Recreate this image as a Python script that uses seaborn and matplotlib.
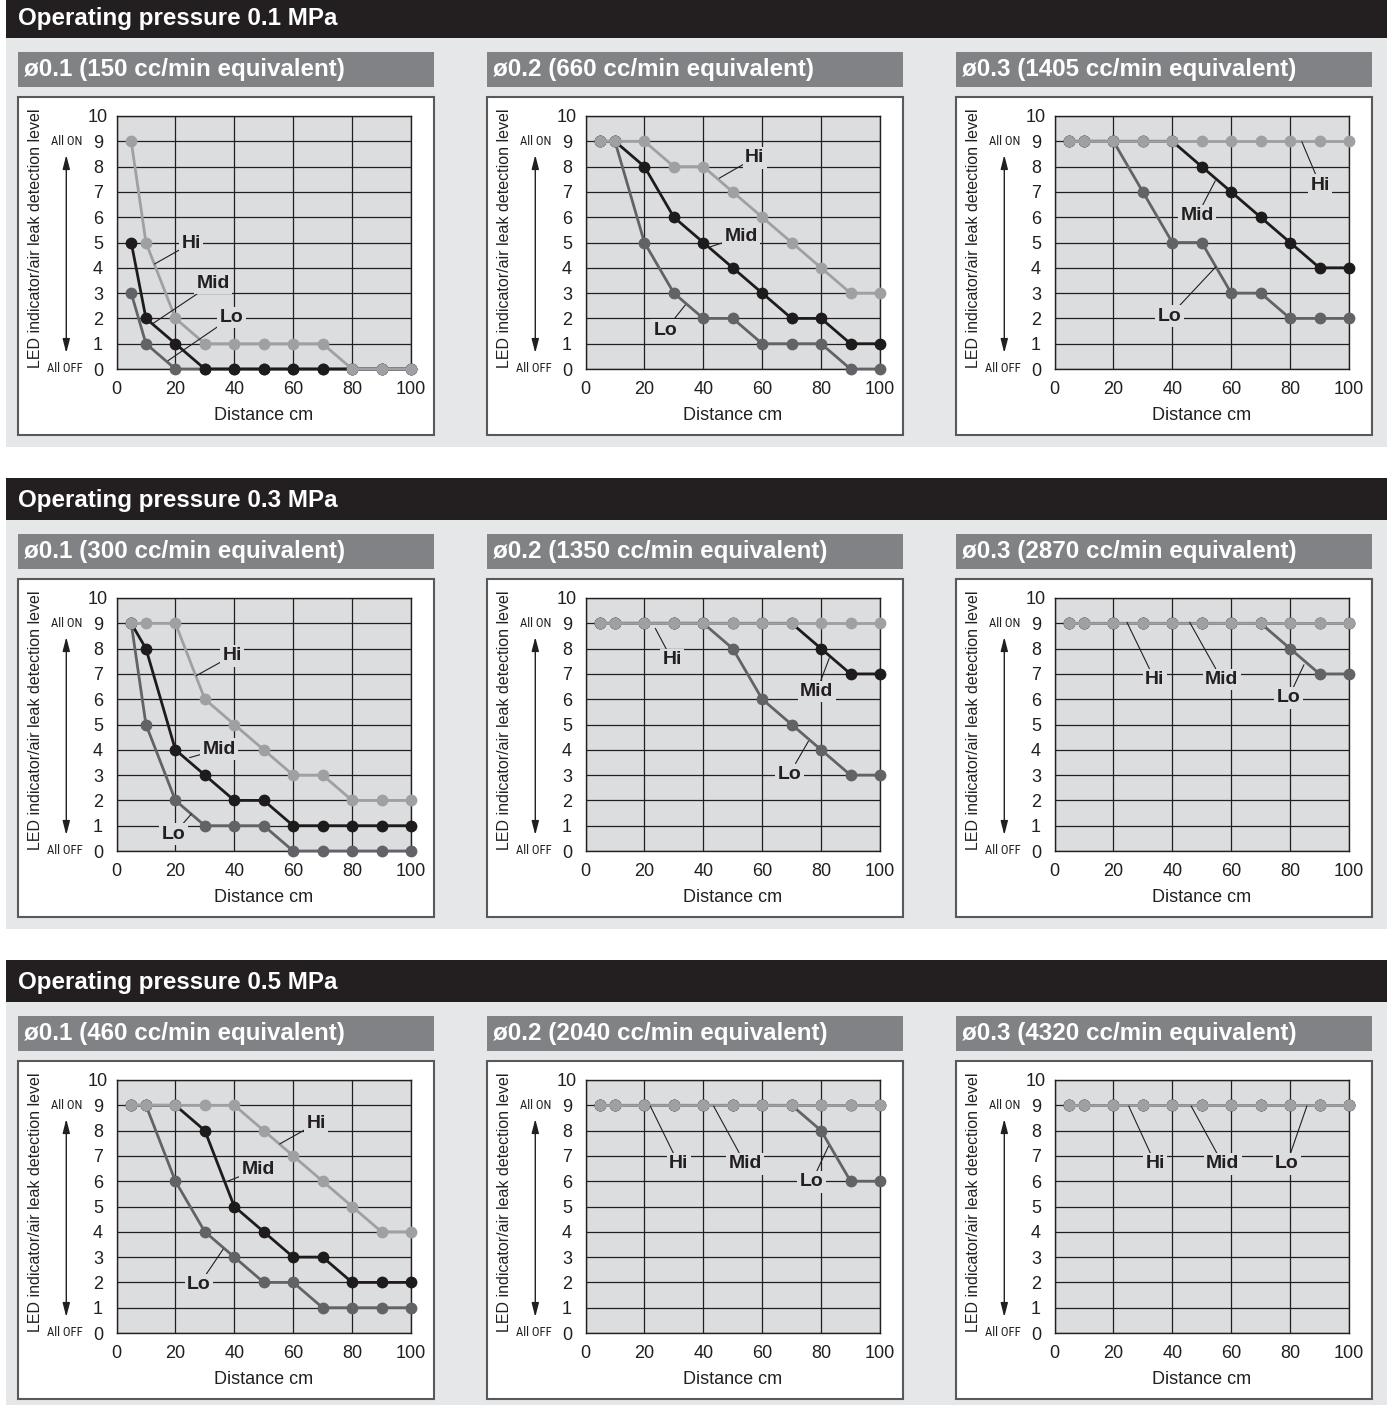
import matplotlib
matplotlib.use("Agg")
import matplotlib.pyplot as plt
from matplotlib.patches import Rectangle
from matplotlib import font_manager
from matplotlib.font_manager import FontProperties
import pandas as pd
import seaborn as sns

# ---------------- data ----------------
distance = [5, 10, 20, 30, 40, 50, 60, 70, 80, 90, 100]

p01_d01_hi = [9, 5, 2, 1, 1, 1, 1, 1, 0, 0, 0]
p01_d01_mid = [5, 2, 1, 0, 0, 0, 0, 0, 0, 0, 0]
p01_d01_lo = [3, 1, 0, 0, 0, 0, 0, 0, 0, 0, 0]

p01_d02_hi = [9, 9, 9, 8, 8, 7, 6, 5, 4, 3, 3]
p01_d02_mid = [9, 9, 8, 6, 5, 4, 3, 2, 2, 1, 1]
p01_d02_lo = [9, 9, 5, 3, 2, 2, 1, 1, 1, 0, 0]

p01_d03_hi = [9, 9, 9, 9, 9, 9, 9, 9, 9, 9, 9]
p01_d03_mid = [9, 9, 9, 9, 9, 8, 7, 6, 5, 4, 4]
p01_d03_lo = [9, 9, 9, 7, 5, 5, 3, 3, 2, 2, 2]

p03_d01_hi = [9, 9, 9, 6, 5, 4, 3, 3, 2, 2, 2]
p03_d01_mid = [9, 8, 4, 3, 2, 2, 1, 1, 1, 1, 1]
p03_d01_lo = [9, 5, 2, 1, 1, 1, 0, 0, 0, 0, 0]

p03_d02_hi = [9, 9, 9, 9, 9, 9, 9, 9, 9, 9, 9]
p03_d02_mid = [9, 9, 9, 9, 9, 9, 9, 9, 8, 7, 7]
p03_d02_lo = [9, 9, 9, 9, 9, 8, 6, 5, 4, 3, 3]

p03_d03_hi = [9, 9, 9, 9, 9, 9, 9, 9, 9, 9, 9]
p03_d03_mid = [9, 9, 9, 9, 9, 9, 9, 9, 9, 9, 9]
p03_d03_lo = [9, 9, 9, 9, 9, 9, 9, 9, 8, 7, 7]

p05_d01_hi = [9, 9, 9, 9, 9, 8, 7, 6, 5, 4, 4]
p05_d01_mid = [9, 9, 9, 8, 5, 4, 3, 3, 2, 2, 2]
p05_d01_lo = [9, 9, 6, 4, 3, 2, 2, 1, 1, 1, 1]

p05_d02_hi = [9, 9, 9, 9, 9, 9, 9, 9, 9, 9, 9]
p05_d02_mid = [9, 9, 9, 9, 9, 9, 9, 9, 9, 9, 9]
p05_d02_lo = [9, 9, 9, 9, 9, 9, 9, 9, 8, 6, 6]

p05_d03_hi = [9, 9, 9, 9, 9, 9, 9, 9, 9, 9, 9]
p05_d03_mid = [9, 9, 9, 9, 9, 9, 9, 9, 9, 9, 9]
p05_d03_lo = [9, 9, 9, 9, 9, 9, 9, 9, 9, 9, 9]

series = [
    [(p01_d01_hi, p01_d01_mid, p01_d01_lo), (p01_d02_hi, p01_d02_mid, p01_d02_lo), (p01_d03_hi, p01_d03_mid, p01_d03_lo)],
    [(p03_d01_hi, p03_d01_mid, p03_d01_lo), (p03_d02_hi, p03_d02_mid, p03_d02_lo), (p03_d03_hi, p03_d03_mid, p03_d03_lo)],
    [(p05_d01_hi, p05_d01_mid, p05_d01_lo), (p05_d02_hi, p05_d02_mid, p05_d02_lo), (p05_d03_hi, p05_d03_mid, p05_d03_lo)],
]

modes = ["Hi", "Mid", "Lo"]
section_titles = ["Operating pressure 0.1 MPa", "Operating pressure 0.3 MPa", "Operating pressure 0.5 MPa"]
panel_titles = [
    ["ø0.1 (150 cc/min equivalent)", "ø0.2 (660 cc/min equivalent)", "ø0.3 (1405 cc/min equivalent)"],
    ["ø0.1 (300 cc/min equivalent)", "ø0.2 (1350 cc/min equivalent)", "ø0.3 (2870 cc/min equivalent)"],
    ["ø0.1 (460 cc/min equivalent)", "ø0.2 (2040 cc/min equivalent)", "ø0.3 (4320 cc/min equivalent)"],
]
x_ticks = [0, 20, 40, 60, 80, 100]
y_ticks = [0, 1, 2, 3, 4, 5, 6, 7, 8, 9, 10]
y_label = "LED indicator/air leak detection level"
x_label = "Distance cm"
on_label = "All ON"
off_label = "All OFF"

# ---------------- label placement (text centre, leader tip) ----------------
annots = [
    [
        [("Hi", (25.4, 4.97), (12.9, 4.15)), ("Mid", (32.8, 3.39), (12.4, 1.8)), ("Lo", (39.0, 2.04), (17.5, 0.33))],
        [("Hi", (57.5, 8.35), (45.4, 7.54)), ("Mid", (52.8, 5.23), (42.4, 4.83)), ("Lo", (27.1, 1.54), (33.9, 2.53))],
        [("Hi", (90.2, 7.27), (84.0, 8.98)), ("Mid", (48.4, 6.05), (54.6, 7.44)), ("Lo", (39.1, 2.09), (54.8, 4.04))],
    ],
    [
        [("Hi", (39.3, 7.72), (27.1, 6.93)), ("Mid", (34.8, 4.02), (24.8, 3.69)), ("Lo", (19.4, 0.66), (25.4, 1.46))],
        [("Hi", (29.4, 7.55), (23.7, 8.8)), ("Mid", (78.5, 6.31), (82.8, 7.63)), ("Lo", (69.2, 3.03), (75.7, 4.34))],
        [("Hi", (34.0, 6.78), (24.6, 9.04)), ("Mid", (56.8, 6.78), (45.9, 9.04)), ("Lo", (79.4, 6.05), (84.7, 7.36))],
    ],
    [
        [("Hi", (67.9, 8.29), (55.4, 7.47)), ("Mid", (48.1, 6.47), (37.3, 5.98)), ("Lo", (28.0, 1.9), (36.2, 3.31))],
        [("Hi", (31.6, 6.69), (22.0, 8.97)), ("Mid", (54.2, 6.69), (43.5, 8.97)), ("Lo", (76.8, 5.97), (82.5, 7.38))],
        [("Hi", (34.2, 6.69), (25.2, 8.97)), ("Mid", (57.1, 6.69), (46.4, 8.97)), ("Lo", (78.9, 6.69), (85.7, 8.97))],
    ],
]

# ---------------- style ----------------
colors = {"Hi": "#9fa0a3", "Mid": "#1e1b1c", "Lo": "#626366"}
ink = "#231f20"
header_bg = "#231f20"
section_bg = "#e6e7e8"
bar_bg = "#808285"
plot_bg = "#dcdddf"

sns.set_theme(style="white")
plt.rcParams["font.family"] = ["Liberation Sans", "DejaVu Sans"]

# condensed face for the "All ON"/"All OFF" marks, if one is installed
cond_rank = ["Liberation Sans Narrow", "Roboto Condensed", "Noto Sans", "Open Sans", "Roboto",
             "DejaVu Sans", "Lato", "Inter"]
cands = []
for f in font_manager.fontManager.ttflist:
    is_cond = (str(f.stretch) in ("condensed", "semi-condensed", "extra-condensed", "ultra-condensed")
               or "Narrow" in f.name or "Condensed" in f.name)
    if is_cond and f.style == "normal" and str(f.weight) in ("400", "normal", "regular", "book"):
        rank = next((k for k, n in enumerate(cond_rank) if f.name.startswith(n)), 99)
        cands.append((rank, f.fname))
cands.sort()
if cands:
    small_fp = FontProperties(fname=cands[0][1])
else:
    small_fp = FontProperties(family=["Liberation Sans", "DejaVu Sans"])

W, H = 1387, 1405
fig = plt.figure(figsize=(W / 100, H / 100), dpi=100)
fig.patch.set_facecolor("white")

# size the condensed marks so "All OFF" is ~36 px wide
renderer = fig.canvas.get_renderer()
probe_fp = small_fp.copy()
probe_fp.set_size(20)
probe = fig.text(0, 0, off_label, fontproperties=probe_fp)
w20 = probe.get_window_extent(renderer).width
probe.remove()
small_size = min(12.0, 20 * 36.0 / w20)
small_fp.set_size(small_size)


def rect(x, y, w, h, **kw):
    r = Rectangle((x / W, 1 - (y + h) / H), w / W, h / H, transform=fig.transFigure, **kw)
    fig.add_artist(r)


section_tops = [-4, 478, 960]
box_lefts = [18, 487, 956]

for i, S in enumerate(section_tops):
    rect(6, S + 42, W - 6, 409, facecolor=section_bg, edgecolor="none", zorder=-10)
    rect(6, S, W - 6, 42, facecolor=header_bg, edgecolor="none", zorder=-9)
    fig.text(18 / W, 1 - (S + 22) / H, section_titles[i], color="white", fontsize=17.4,
             fontweight="bold", ha="left", va="center")
    for j, BX in enumerate(box_lefts):
        rect(BX, S + 56, 416, 35, facecolor=bar_bg, edgecolor="none", zorder=-8)
        fig.text((BX + 6) / W, 1 - (S + 73.5) / H, panel_titles[i][j], color="white",
                 fontsize=17.4, fontweight="bold", ha="left", va="center")
        rect(BX, S + 101, 416, 338, facecolor="white", edgecolor="#58595b", linewidth=1.5, zorder=-8)

        left = BX + 98.5
        top = S + 120
        ax = fig.add_axes([left / W, 1 - (top + 253) / H, 294.5 / W, 253 / H])
        ax.set_facecolor(plot_bg)

        hi, mid, lo = series[i][j]
        df = pd.DataFrame({
            "distance": distance * 3,
            "level": list(hi) + list(mid) + list(lo),
            "mode": ["Hi"] * 11 + ["Mid"] * 11 + ["Lo"] * 11,
        })
        for m in ["Lo", "Mid", "Hi"]:
            sns.lineplot(data=df[df["mode"] == m], x="distance", y="level", ax=ax,
                         color=colors[m], marker="o", markersize=8.5, linewidth=2.0,
                         markeredgecolor=colors[m], markeredgewidth=0, estimator=None,
                         sort=False, legend=False, clip_on=False, zorder=3)

        ax.set_xlim(0, 100)
        ax.set_ylim(0, 10)
        ax.set_xticks(x_ticks)
        ax.set_yticks(y_ticks)
        ax.grid(True, color=ink, linewidth=0.9)
        ax.set_axisbelow(True)
        for sp in ax.spines.values():
            sp.set_visible(True)
            sp.set_color(ink)
            sp.set_linewidth(1.0)
        ax.tick_params(length=0, labelsize=13, colors=ink)
        ax.tick_params(axis="x", pad=9)
        ax.tick_params(axis="y", pad=13.3)
        for lbl in ax.get_yticklabels():
            lbl.set_horizontalalignment("center")

        ax.set_xlabel(x_label, fontsize=13, color=ink)
        ax.xaxis.set_label_coords(0.5, -0.15)
        ax.set_ylabel(y_label, fontsize=11.5, color=ink, va="center")
        ax.yaxis.set_label_coords(-0.2746, 0.515)

        yt = ax.get_yaxis_transform()
        ax.text(-0.115, 9, on_label, transform=yt, ha="right", va="center",
                fontproperties=small_fp, color=ink)
        ax.text(-0.115, 0, off_label, transform=yt, ha="right", va="center",
                fontproperties=small_fp, color=ink)
        ax.annotate("", xy=(-0.1705, 8.46), xytext=(-0.1705, 0.63), xycoords=yt, textcoords=yt,
                    annotation_clip=False,
                    arrowprops=dict(arrowstyle="<|-|>,head_length=0.7,head_width=0.18",
                                    color=ink, lw=1.0, mutation_scale=12, shrinkA=0, shrinkB=0))

        for label, (tx, ty), (px, py) in annots[i][j]:
            ax.annotate(label, xy=(px, py), xytext=(tx, ty), ha="center", va="center",
                        fontsize=14, fontweight="bold", color=ink, zorder=6,
                        bbox=dict(boxstyle="square,pad=0.12", facecolor=plot_bg, edgecolor="none"),
                        arrowprops=dict(arrowstyle="-", color=ink, lw=0.8, shrinkA=0, shrinkB=0))

fig.savefig("out.png", dpi=100, facecolor="white")
